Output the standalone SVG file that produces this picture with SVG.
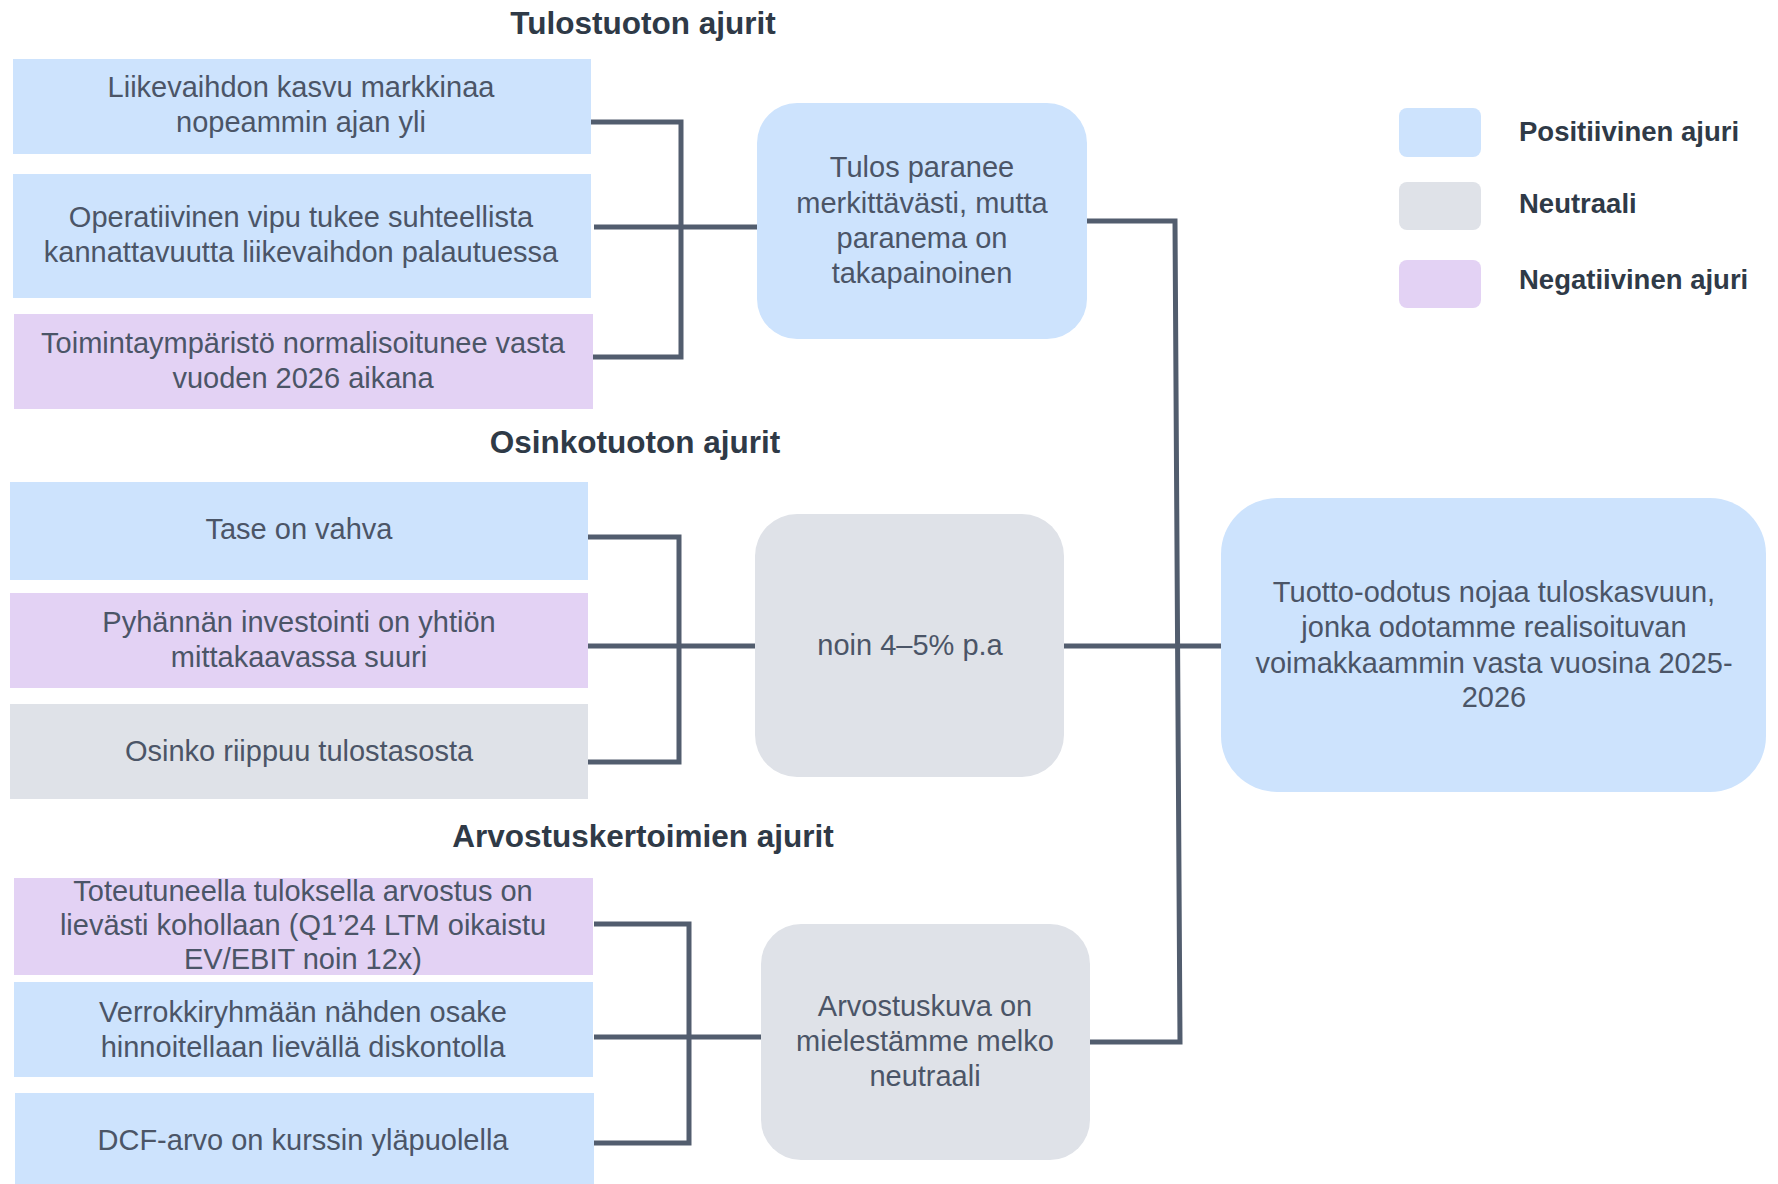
<svg xmlns="http://www.w3.org/2000/svg" width="1778" height="1184" viewBox="0 0 1778 1184">
<style>
.t{font-family:"Liberation Sans",Arial,sans-serif;font-size:29px;fill:#4B5567;text-anchor:middle}
.h{font-family:"Liberation Sans",Arial,sans-serif;font-size:31.5px;font-weight:bold;fill:#2F3A47;text-anchor:middle}
.lg{font-family:"Liberation Sans",Arial,sans-serif;font-size:27.5px;font-weight:bold;fill:#2F3A47}
.pos{fill:#CDE3FD}
.neu{fill:#DFE2E8}
.neg{fill:#E3D2F4}
.c{fill:none;stroke:#525D6E;stroke-width:5}
</style>
<rect width="1778" height="1184" fill="#FFFFFF"/>
<g id="titles">
<text class="h" x="643" y="34">Tulostuoton ajurit</text>
<text class="h" x="635" y="453">Osinkotuoton ajurit</text>
<text class="h" x="643" y="847">Arvostuskertoimien ajurit</text>
</g>
<g id="connectors">
<path class="c" d="M591,122 H681 V357 H593"/>
<path class="c" d="M594,227 H758"/>
<path class="c" d="M588,537 H679 V762 H588"/>
<path class="c" d="M588,646 H755"/>
<path class="c" d="M594,924 H689 V1143 H594"/>
<path class="c" d="M594,1037 H761"/>
<path class="c" d="M1087,221 H1175 L1180,1042 H1090"/>
<path class="c" d="M1064,646 H1221"/>
</g>
<g id="b1"><rect class="pos" x="13" y="59" width="578" height="95"/>
<text class="t" x="301" y="97">Liikevaihdon kasvu markkinaa</text><text class="t" x="301" y="132">nopeammin ajan yli</text></g>
<g id="b2"><rect class="pos" x="13" y="174" width="578" height="124"/>
<text class="t" x="301" y="227">Operatiivinen vipu tukee suhteellista</text><text class="t" x="301" y="262">kannattavuutta liikevaihdon palautuessa</text></g>
<g id="b3"><rect class="neg" x="14" y="314" width="579" height="95"/>
<text class="t" x="303" y="353">Toimintaympäristö normalisoitunee vasta</text><text class="t" x="303" y="388">vuoden 2026 aikana</text></g>
<g id="b4"><rect class="pos" x="10" y="482" width="578" height="98"/>
<text class="t" x="299" y="539">Tase on vahva</text></g>
<g id="b5"><rect class="neg" x="10" y="593" width="578" height="95"/>
<text class="t" x="299" y="632">Pyhännän investointi on yhtiön</text><text class="t" x="299" y="667">mittakaavassa suuri</text></g>
<g id="b6"><rect class="neu" x="10" y="704" width="578" height="95"/>
<text class="t" x="299" y="761">Osinko riippuu tulostasosta</text></g>
<g id="b7"><rect class="neg" x="14" y="878" width="579" height="97"/>
<text class="t" x="303" y="901">Toteutuneella tuloksella arvostus on</text><text class="t" x="303" y="935">lievästi kohollaan (Q1’24 LTM oikaistu</text><text class="t" x="303" y="969">EV/EBIT noin 12x)</text></g>
<g id="b8"><rect class="pos" x="14" y="982" width="579" height="95"/>
<text class="t" x="303" y="1022">Verrokkiryhmään nähden osake</text><text class="t" x="303" y="1057">hinnoitellaan lievällä diskontolla</text></g>
<g id="b9"><rect class="pos" x="15" y="1093" width="579" height="91"/>
<text class="t" x="303" y="1150">DCF-arvo on kurssin yläpuolella</text></g>
<g id="n1"><rect class="pos" x="757" y="103" width="330" height="236" rx="40"/>
<text class="t" x="922" y="177">Tulos paranee</text><text class="t" x="922" y="213">merkittävästi, mutta</text><text class="t" x="922" y="248">paranema on</text><text class="t" x="922" y="283">takapainoinen</text></g>
<g id="n2"><rect class="neu" x="755" y="514" width="309" height="263" rx="42"/>
<text class="t" x="910" y="655">noin 4–5% p.a</text></g>
<g id="n3"><rect class="neu" x="761" y="924" width="329" height="236" rx="40"/>
<text class="t" x="925" y="1016">Arvostuskuva on</text><text class="t" x="925" y="1051">mielestämme melko</text><text class="t" x="925" y="1086">neutraali</text></g>
<g id="result"><rect class="pos" x="1221" y="498" width="545" height="294" rx="56"/>
<text class="t" x="1494" y="602">Tuotto-odotus nojaa tuloskasvuun,</text><text class="t" x="1494" y="637">jonka odotamme realisoituvan</text><text class="t" x="1494" y="673">voimakkaammin vasta vuosina 2025-</text><text class="t" x="1494" y="707">2026</text></g>
<g id="legend">
<g id="lg-pos"><rect class="pos" x="1399" y="108" width="82" height="49" rx="8"/><text class="lg" x="1519" y="141">Positiivinen ajuri</text></g>
<g id="lg-neu"><rect class="neu" x="1399" y="182" width="82" height="48" rx="8"/><text class="lg" x="1519" y="213">Neutraali</text></g>
<g id="lg-neg"><rect class="neg" x="1399" y="260" width="82" height="48" rx="8"/><text class="lg" x="1519" y="289">Negatiivinen ajuri</text></g>
</g>
</svg>
